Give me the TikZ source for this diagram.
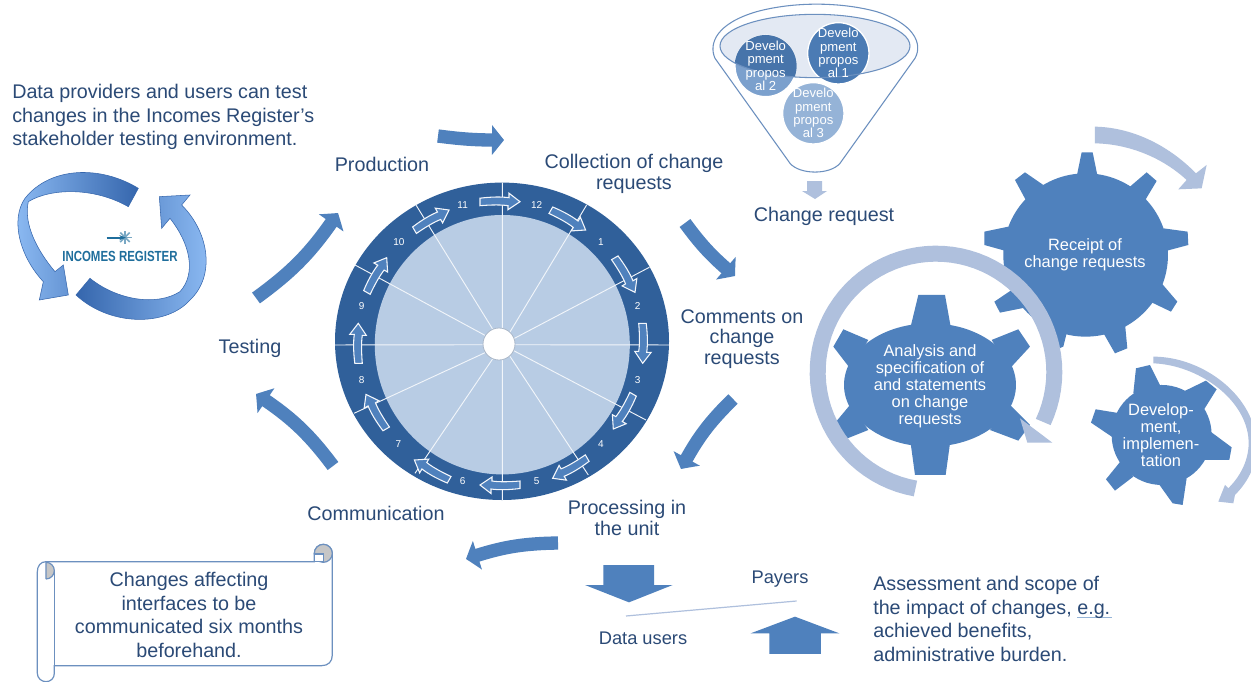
\documentclass[tikz,border=0pt]{standalone}
\usepackage{fontspec}
\setmainfont{Liberation Sans}
\usetikzlibrary{arrows.meta,bending,shapes}
\definecolor{navy}{HTML}{2B4A76}
\definecolor{flowblue}{HTML}{4F81BD}
\definecolor{rimblue}{HTML}{30609A}
\definecolor{paleblue}{HTML}{B8CCE4}
\definecolor{bandblue}{HTML}{AFC0DD}
\definecolor{scrollblue}{HTML}{6C90BF}
\definecolor{teal}{HTML}{1F6E9C}
\definecolor{logolight}{HTML}{8FBDF5}
\definecolor{logodark}{HTML}{3566AD}
\tikzstyle{lbl} = [text=navy,align=center,inner sep=0,font=\fontsize{14.8}{15.6}\selectfont]
\tikzstyle{smalllbl} = [text=navy,align=center,inner sep=0,font=\fontsize{13.7}{15}\selectfont]
\tikzstyle{para} = [text=navy,inner sep=0,font=\fontsize{14.8}{17.6}\selectfont]
\tikzstyle{gearlbl} = [text=white,align=center,inner sep=0,font=\fontsize{12.3}{12.8}\selectfont]
\tikzstyle{proplbl} = [text=white,align=center,inner sep=0,font=\fontsize{9.8}{10}\selectfont]
\tikzstyle{monthlbl} = [text=white,inner sep=0,font=\fontsize{7.5}{8}\selectfont]
\tikzstyle{flowarrow} = [draw=flowblue,line width=10pt,-{Triangle[bend,width=22pt,length=9pt]}]
\tikzstyle{spoke} = [draw=white!80!paleblue,line width=0.7pt]
\tikzstyle{ringarrow} = [draw=white!85!paleblue,fill=flowblue,line width=0.8pt,line join=miter]
\tikzstyle{band} = [fill=bandblue]
\tikzstyle{scrollline} = [draw=scrollblue,line width=0.9pt,fill=white]
\tikzstyle{logoline} = [draw=logodark,line width=0.4pt]
\tikzstyle{prop} = [draw=white,line width=1pt,circle,inner sep=0,minimum size=46pt]
\tikzstyle{zgear} = [shift={(800,120)},scale=0.3333]
\tikzstyle{zfunnel} = [shift={(700,0)},scale=0.3333]
\def \tu {0.75pt}
\begin{document}
\begin{tikzpicture}[x=\tu,y=-\tu]
  \path[use as bounding box,clip] (0,0) rectangle (1251,681);
  \fill[white] (0,0) rectangle (1251,681);

  % wheel
  \fill[rimblue] (502,341.3) ellipse [x radius=167,y radius=158.7];
  \fill[paleblue] (502.3,344.7) ellipse [x radius=127.5,y radius=129.7];
  \coordinate (hubc) at (502.3,344.7);
  \begin{scope}[shift={(330,170)},scale=0.3333]
    \foreach \i/\p in {1/{770,105},2/{958,292},3/{1017,525},4/{948,750},5/{775,915},6/{517,990},7/{255,910},8/{72,730},9/{15,525},10/{75,285},11/{258,105},12/{517,38}}
      \draw[spoke] (hubc) -- (\p);
    \foreach \n/\p in {11/{398,105},12/{620,105},1/{813,217},2/{923,408},3/{923,630},4/{813,823},5/{620,932},6/{398,932},7/{205,823},8/{95,630},9/{95,408},10/{207,217}}
      \node[monthlbl] (month\n) at (\p) {\n};
  \end{scope}
  \node[circle,draw=navy!40,fill=white,inner sep=0,minimum size=24pt,line width=0.6pt] (hub) at (499,344) {};
  \foreach \a/\x/\y in {90/500/201.7,60/568.3/220,30/625/275,0/642.7/343.3,-30/623.3/411.7,-60/570/468.3,-90/500/485,-120/431.7/470,-150/376/411.7,180/358.3/343.3,150/376.7/275,120/431.7/220}
    \draw[ringarrow,shift={(\x,\y)},rotate=\a-90] (-20,-3.5) .. controls (-8,-5) and (2,-5) .. (9,-4) -- (9,-8.5) -- (20,0) -- (8,8) -- (8,4) .. controls (2,3) and (-8,3) .. (-20,4) -- cycle;

  % cycle labels
  \node[lbl] (production) at (382,164) {Production};
  \node[lbl] (collection) at (634,174) {Collection of change\\requests};
  \node[lbl] (comments) at (742,339) {Comments on\\change\\requests};
  \node[lbl] (processing) at (627,518) {Processing in\\the unit};
  \node[lbl] (communication) at (376,513) {Communication};
  \node[lbl] (testing) at (250,348) {Testing};
  \node[lbl] (changereq) at (824,216) {Change request};

  \coordinate (f1a) at (438,136);  \coordinate (f1b) at (504,140);
  \coordinate (f2a) at (685,223);  \coordinate (f2b) at (735,276);
  \coordinate (f3a) at (733,399);  \coordinate (f3b) at (681,469);
  \coordinate (f4a) at (558,543);  \coordinate (f4b) at (466,559);
  \coordinate (f5a) at (333,466);  \coordinate (f5b) at (256,394);
  \coordinate (f6a) at (256,298);  \coordinate (f6b) at (338,213);
  \draw[flowarrow] (f1a) to[bend right=4] (f1b);
  \draw[flowarrow] (f2a) to[bend right=7] (f2b);
  \draw[flowarrow] (f3a) to[bend right=9] (f3b);
  \draw[flowarrow] (f4a) to[bend right=9] (f4b);
  \draw[flowarrow] (f5a) to[bend right=10] (f5b);
  \draw[flowarrow] (f6a) to[bend right=10] (f6b);

  % funnel
  \begin{scope}[zfunnel]
    \fill[white] (45,175) .. controls (25,130) and (50,70) .. (170,35) .. controls (280,5) and (420,5) .. (530,35) .. controls (640,70) and (670,130) .. (645,175) -- (420,490) .. controls (390,525) and (300,525) .. (270,490) -- cycle;
    \fill[bandblue!35!white] (345,138) ellipse [x radius=285,y radius=95];
    \draw[scrollblue,line width=0.8pt] (45,175) .. controls (25,130) and (50,70) .. (170,35) .. controls (280,5) and (420,5) .. (530,35) .. controls (640,70) and (670,130) .. (645,175) -- (420,490) .. controls (390,525) and (300,525) .. (270,490) -- cycle;
    \node[prop,fill=flowblue!75!white] (prop2) at (197,198) {};
    \node[prop,fill=flowblue!60!white] (prop3) at (340,340) {};
    \node[prop,fill=flowblue!95!black] (prop1) at (415,160) {};
    \begin{scope}
      \clip (345,138) ellipse [x radius=285,y radius=95];
      \fill[flowblue!90!black] (197,198) circle [radius=93];
    \end{scope}
    \draw[scrollblue,line width=0.8pt] (345,138) ellipse [x radius=285,y radius=95];
    \node[proplbl] at (prop1) {Develo\\pment\\propos\\al 1};
    \node[proplbl] at (prop2) {Develo\\pment\\propos\\al 2};
    \node[proplbl] at (prop3) {Develo\\pment\\propos\\al 3};
  \end{scope}
  \fill[bandblue] (807,181) -- (822,181) -- (822,191) -- (827,191) -- (815,199) -- (802,191) -- (807,191) -- cycle;

  % gears
  \begin{scope}[zgear]
    \fill[flowblue] (857,405) ellipse [x radius=247,y radius=245];
    \foreach \p/\q/\r/\s in {{830,170}/{845,97}/{878,97}/{893,170},{990,200}/{1040,157}/{1070,183}/{1030,250},{1090,325}/{1163,335}/{1165,375}/{1090,395},{1085,490}/{1132,545}/{1113,575}/{1040,540},{975,610}/{982,685}/{945,700}/{905,630},{650,500}/{583,545}/{600,578}/{690,560},{625,320}/{553,335}/{553,375}/{625,395},{680,245}/{645,180}/{675,157}/{730,195},{720,620}/{740,700}/{790,680}/{800,640}}
      \fill[flowblue] (\p) -- (\q) -- (\r) -- (\s) -- cycle;
    \fill[flowblue] (390,795) ellipse [x radius=258,y radius=185];
    \foreach \p/\q/\r/\s in {{332,620}/{355,525}/{435,525}/{452,620},{575,660}/{655,628}/{690,680}/{630,745},{630,855}/{690,915}/{655,962}/{570,930},{332,970}/{345,1065}/{437,1065}/{450,970},{205,930}/{125,962}/{100,915}/{150,855},{150,745}/{100,680}/{130,628}/{205,660}}
      \fill[flowblue] (\p) -- (\q) -- (\r) -- (\s) -- cycle;
    \fill[flowblue] (1085,945) ellipse [x radius=150,y radius=150];
    \foreach \p/\q/\r/\s in {{1000,820}/{1008,745}/{1050,735}/{1085,805},{1150,815}/{1218,782}/{1250,808}/{1205,880},{1225,930}/{1295,982}/{1288,1020}/{1215,1020},{1160,1075}/{1148,1155}/{1118,1150}/{1075,1090},{1000,1070}/{945,1112}/{918,1078}/{965,1020},{950,960}/{873,908}/{887,868}/{960,880}}
      \fill[flowblue] (\p) -- (\q) -- (\r) -- (\s) -- cycle;
    \draw[bandblue,line width=12pt] plot[domain=260:-25,samples=70] ({408+355*cos(\x)},{756-355*sin(\x)});
    \fill[band] (660,895) -- (757,968) -- (682,968) -- cycle;
    \fill[band] (885,20) .. controls (990,22) and (1100,70) .. (1188,160) -- (1220,135) -- (1205,205) -- (1135,208) -- (1160,180) .. controls (1090,115) and (990,72) .. (885,70) -- cycle;
    \fill[band] (1060,710) .. controls (1210,710) and (1370,830) .. (1370,980) .. controls (1370,1040) and (1340,1090) .. (1305,1125) -- (1300,1150) -- (1255,1145) -- (1275,1095) -- (1285,1105) .. controls (1340,1050) and (1350,990) .. (1345,950) .. controls (1330,830) and (1190,735) .. (1060,730) -- cycle;
  \end{scope}
  \node[gearlbl] (receipt) at (1085,255) {Receipt of\\change requests};
  \node[gearlbl] (analysis) at (930,386) {Analysis and\\specification of\\and statements\\on change\\requests};
  \node[gearlbl] (develop) at (1161,435) {Develop-\\ment,\\implemen-\\tation};

  % logo
  \begin{scope}[shift={(0,160)},scale=0.3333]
    \path[logoline,left color=logolight,right color=logodark] (415,85) .. controls (300,15) and (150,20) .. (75,115) .. controls (30,180) and (60,290) .. (130,365) -- (118,420) -- (205,405) -- (190,315) -- (165,335) .. controls (110,270) and (70,190) .. (85,125) .. controls (150,85) and (280,80) .. (385,140) -- cycle;
    \path[logoline,left color=logodark,right color=logolight] (228,405) .. controls (330,500) and (500,500) .. (570,420) .. controls (645,350) and (630,220) .. (545,135) -- (570,105) -- (478,110) -- (485,205) -- (510,175) .. controls (570,250) and (590,340) .. (540,395) .. controls (470,440) and (350,420) .. (270,355) -- cycle;
    \foreach \a in {0,45,...,315}
      \draw[teal!60,line width=1.2pt] (375,232) -- +(\a:20);
    \coordinate (logoa) at (320,233);
    \coordinate (logob) at (378,233);
    \draw[teal,line width=1.5pt,-{Stealth[length=5pt]}] (logoa) -- (logob);
    \node[text=teal,inner sep=0,font=\bfseries\fontsize{10}{12}\selectfont] (logotext) at (360,290) {\scalebox{0.86}[1.1]{INCOMES REGISTER}};
  \end{scope}

  % scroll
  \begin{scope}[shift={(20,530)},scale=0.3333]
    \draw[scrollline] (52,125) -- (52,430) .. controls (52,445) and (65,455) .. (78,455) .. controls (92,455) and (103,445) .. (103,430) -- (103,407) -- (905,407) .. controls (925,407) and (937,395) .. (937,375) -- (937,70) .. controls (937,55) and (925,43) .. (910,43) .. controls (895,43) and (883,55) .. (883,70) -- (883,95) -- (78,95) .. controls (62,95) and (52,108) .. (52,125) -- cycle;
    \draw[scrollline] (103,120) -- (103,407);
    \draw[scrollline,fill=gray!45] (78,147) .. controls (92,147) and (103,135) .. (103,122) .. controls (103,108) and (92,97) .. (78,97) -- (78,147);
    \draw[scrollline,fill=gray!45] (910,70) circle [radius=27];
    \draw[scrollline] (883,72) -- (883,95) -- (910,95) -- (910,72) -- cycle;
  \end{scope}
  \node[para,align=center] (scrolltext) at (189,615) {Changes affecting\\interfaces to be\\communicated six months\\beforehand.};

  % free text
  \node[para,align=left,anchor=west] (intro) at (12,117) {Data providers and users can test\\changes in the Incomes Register's\\stakeholder testing environment.};
  \node[para,align=left,anchor=west] (assess) at (873,619) {Assessment and scope of\\the impact of changes, \rlap{\color{flowblue!60!white}\rule[-3pt]{26pt}{0.8pt}}e.g.\\achieved benefits,\\administrative burden.};

  % payers and data users
  \node[smalllbl] (payers) at (780,579) {Payers};
  \node[smalllbl] (datausers) at (643,638) {Data users};
  \begin{scope}[shift={(560,550)},scale=0.3333]
    \coordinate (linea) at (198,198);
    \coordinate (lineb) at (710,153);
    \draw[bandblue,line width=0.9pt] (linea) -- (lineb);
    \fill[flowblue] (130,45) -- (282,45) -- (282,105) -- (338,105) -- (207,157) -- (75,105) -- (130,105) -- cycle;
    \fill[flowblue] (628,312) -- (783,312) -- (783,250) -- (838,250) -- (705,200) -- (572,250) -- (628,250) -- cycle;
  \end{scope}
\end{tikzpicture}
\end{document}
